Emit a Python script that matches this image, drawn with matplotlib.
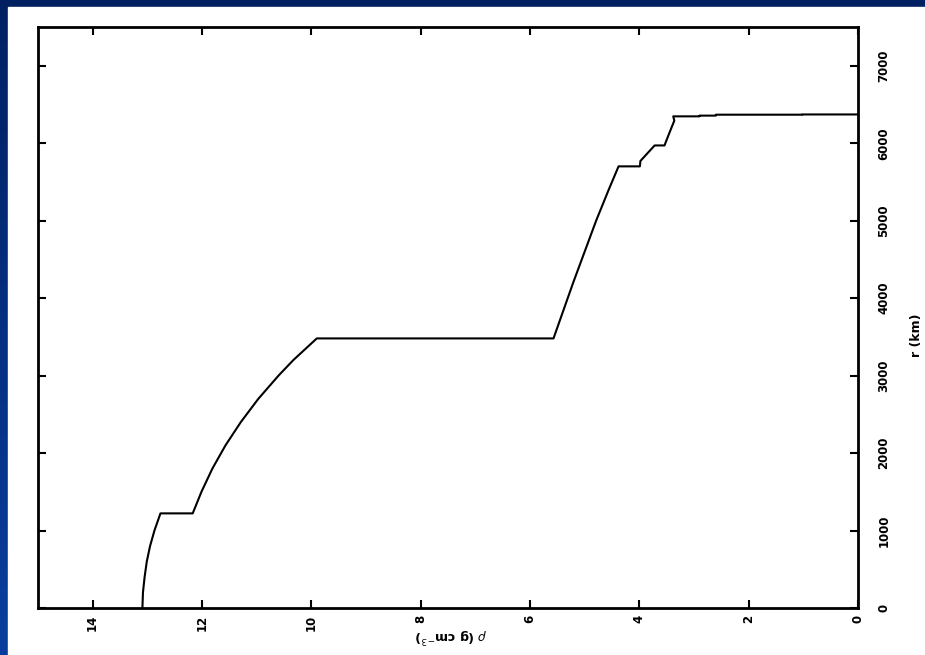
import numpy as np
import matplotlib.pyplot as plt
from matplotlib.colors import LinearSegmentedColormap
from matplotlib.patches import Rectangle

# density (g cm^-3) vs radius (km)
rho = [13.09, 13.08, 13.05, 13.01, 12.95, 12.87, 12.76,
       12.17, 12.01, 11.81, 11.57, 11.29, 10.97, 10.60, 10.33, 9.90,
       5.57, 5.41, 5.21, 5.00, 4.79, 4.56, 4.38,
       3.99, 3.98, 3.72,
       3.54, 3.44, 3.36, 3.38,
       2.90, 2.90, 2.60, 2.60, 1.02, 1.02, 0.0]
r_km = [0, 200, 400, 600, 800, 1000, 1221.5,
        1221.5, 1500, 1800, 2100, 2400, 2700, 3000, 3200, 3480,
        3480, 3800, 4200, 4600, 5000, 5400, 5701,
        5701, 5771, 5971,
        5971, 6151, 6291, 6346.6,
        6346.6, 6356, 6356, 6368, 6368, 6371, 6371]

x_ticks = [14, 12, 10, 8, 6, 4, 2, 0]
y_ticks = [0, 1000, 2000, 3000, 4000, 5000, 6000, 7000]

fig = plt.figure(figsize=(9.25, 6.55), dpi=100)

# blue slide background with white panel
bg = fig.add_axes([0, 0, 1, 1], zorder=-10)
cmap = LinearSegmentedColormap.from_list('slide', ['#0a3e9e', '#002062'])
bg.imshow(np.linspace(0, 1, 256).reshape(-1, 1), aspect='auto', cmap=cmap,
          extent=[0, 1, 0, 1], origin='lower')
bg.add_patch(Rectangle((8 / 925, 0), 1, 1 - 7 / 655, color='white'))
bg.set_xlim(0, 1)
bg.set_ylim(0, 1)
bg.axis('off')

ax = fig.add_axes([38 / 925, 47 / 655, 820 / 925, 581 / 655])
ax.plot(rho, r_km, color='k', lw=1.5)
ax.set_xlim(15, 0)
ax.set_ylim(0, 7500)
ax.set_xticks(x_ticks)
ax.set_yticks(y_ticks)
ax.yaxis.tick_right()
ax.tick_params(direction='in', length=6, width=1.5, top=True, left=True,
               right=True, bottom=True, labelsize=8.5)
for lab in ax.get_xticklabels() + ax.get_yticklabels():
    lab.set_rotation(90)
    lab.set_fontweight('bold')
    lab.set_va('center')
for lab in ax.get_xticklabels():
    lab.set_va('top')
ax.tick_params(axis='y', pad=14)
ax.tick_params(axis='x', pad=5)
for s in ax.spines.values():
    s.set_linewidth(2)

fig.text(451 / 925, 1 - 635 / 655, r'$\rho$ (g cm$^{-3}$)', rotation=180,
         ha='center', va='center', fontsize=9, fontweight='bold')
fig.text(923 / 925, 1 - 335 / 655, 'r (km)', rotation=90,
         ha='right', va='center', fontsize=9, fontweight='bold')

fig.savefig('out.png', dpi=100)
